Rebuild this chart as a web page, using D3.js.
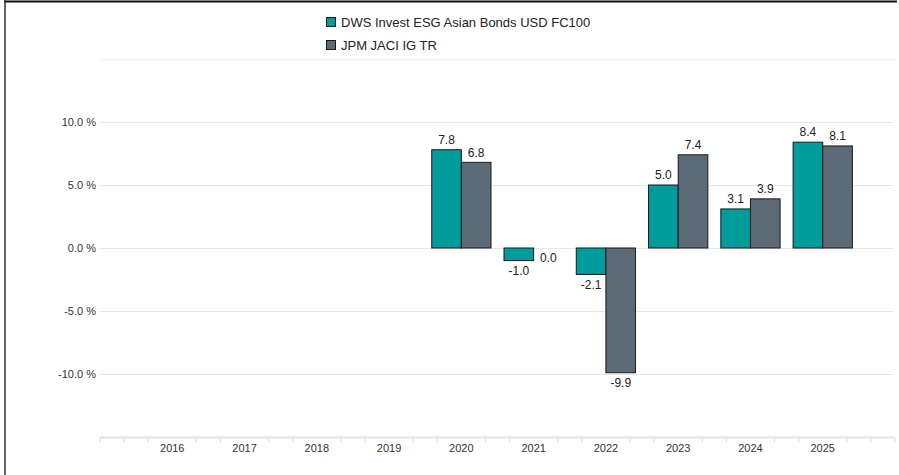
<!DOCTYPE html>
<html>
<head>
<meta charset="utf-8">
<script src="https://cdn.jsdelivr.net/npm/d3@7"></script>
<style>
  html, body { margin: 0; padding: 0; background: #fff; }
  svg { display: block; font-family: "Liberation Sans", Arial, sans-serif; }
</style>
</head>
<body>
<svg id="chart" width="899" height="475"></svg>
<script>
const categories = ["2016", "2017", "2018", "2019", "2020", "2021", "2022", "2023", "2024", "2025"];
const seriesNames = ["DWS Invest ESG Asian Bonds USD FC100", "JPM JACI IG TR"];
const fundValues = [null, null, null, null, 7.8, -1.0, -2.1, 5.0, 3.1, 8.4];
const benchValues = [null, null, null, null, 6.8, 0.0, -9.9, 7.4, 3.9, 8.1];
const yTicks = [-10, -5, 0, 5, 10];
const colors = ["#009b9b", "#5b6a75"];

const fmt = v => d3.format(".1f")(v).replace("\u2212", "-");

const svg = d3.select("#chart");
const W = 899, H = 475;
const left = 100, right = 895;

// frame
svg.append("line").attr("x1", 4).attr("x2", 897).attr("y1", 1.5).attr("y2", 1.5)
  .attr("stroke", "#111").attr("stroke-width", 2);
svg.append("line").attr("x1", 5).attr("x2", 5).attr("y1", 0).attr("y2", H)
  .attr("stroke", "#333").attr("stroke-width", 1.5);
svg.append("line").attr("x1", 100).attr("x2", 895).attr("y1", 59.5).attr("y2", 59.5)
  .attr("stroke", "#f0f0f0").attr("stroke-width", 1);

// scales
const y = d3.scaleLinear().domain([-10, 10]).range([374, 122]);
const bandW = (right - left) / 11;
const x0 = d3.scaleBand().domain(categories).range([left + bandW / 2, right - bandW / 2]).padding(0);
const x1 = d3.scaleBand().domain([0, 1]).range([6.5, x0.bandwidth() - 6.5]).padding(0);

// grid
svg.append("g").selectAll("line").data(yTicks).join("line")
  .attr("x1", left).attr("x2", 893)
  .attr("y1", d => y(d) + 0.5).attr("y2", d => y(d) + 0.5)
  .attr("stroke", "#e6e6e6").attr("stroke-width", 1);

// y labels
svg.append("g").selectAll("text").data(yTicks).join("text")
  .attr("x", 96).attr("y", d => y(d))
  .attr("dy", "0.35em").attr("text-anchor", "end")
  .attr("font-size", 11).attr("fill", "#333")
  .text(d => fmt(d) + " %");

// x axis
const axisY = 437.5;
svg.append("line").attr("x1", left).attr("x2", right).attr("y1", axisY).attr("y2", axisY)
  .attr("stroke", "#e8e8e8").attr("stroke-width", 2.5);
const xl = d3.scaleLinear().domain([0, 33]).range([left, right]);
const ticks = d3.range(0, 34).filter(i => !(i % 3 === 0 && i >= 3 && i <= 30));
svg.append("g").selectAll("line").data(ticks).join("line")
  .attr("x1", i => xl(i)).attr("x2", i => xl(i))
  .attr("y1", axisY).attr("y2", axisY + 5)
  .attr("stroke", "#dddddd").attr("stroke-width", 1);
svg.append("g").selectAll("text").data(categories).join("text")
  .attr("x", d => x0(d) + x0.bandwidth() / 2).attr("y", 448)
  .attr("dy", "0.35em").attr("text-anchor", "middle")
  .attr("font-size", 11).attr("fill", "#333")
  .text(d => d);

// bars
const data = categories.map((c, i) => ({ c, vals: [fundValues[i], benchValues[i]] }));
const groups = svg.append("g").selectAll("g").data(data).join("g")
  .attr("transform", d => `translate(${x0(d.c)},0)`);
groups.selectAll("rect").data(d => d.vals.map((v, k) => ({ v, k })).filter(e => e.v !== null)).join("rect")
  .attr("x", e => x1(e.k)).attr("width", x1.bandwidth())
  .attr("y", e => Math.min(y(e.v), y(0)))
  .attr("height", e => Math.abs(y(e.v) - y(0)))
  .attr("fill", e => colors[e.k])
  .attr("stroke", "#1a1a1a").attr("stroke-width", 1);
groups.selectAll("text").data(d => d.vals.map((v, k) => ({ v, k })).filter(e => e.v !== null)).join("text")
  .attr("x", e => x1(e.k) + x1.bandwidth() / 2)
  .attr("y", e => e.v > 0 ? y(e.v) - 10 : y(e.v) + 10)
  .attr("dy", "0.35em").attr("text-anchor", "middle")
  .attr("font-size", 12).attr("fill", "#222")
  .text(e => fmt(e.v));

// legend
const leg = svg.append("g").attr("transform", "translate(326,17)");
seriesNames.forEach((n, k) => {
  const g = leg.append("g").attr("transform", `translate(0,${k * 23})`);
  g.append("rect").attr("x", 0.5).attr("y", 0.5).attr("width", 9).attr("height", 9)
    .attr("fill", colors[k]).attr("stroke", "#1a1a1a").attr("stroke-width", 1);
  g.append("text").attr("x", 15).attr("y", 5).attr("dy", "0.35em")
    .attr("font-size", 13).attr("fill", "#222").text(n);
});
</script>
</body>
</html>
